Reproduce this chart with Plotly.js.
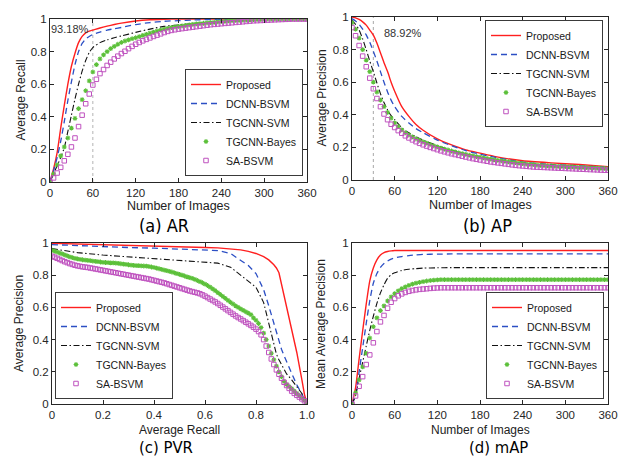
<!DOCTYPE html>
<html>
<head>
<meta charset="utf-8">
<script src="https://cdn.plot.ly/plotly-3.0.1.min.js"></script>
<style>html,body{margin:0;padding:0;background:#fff;}#chart{width:619px;height:457px;}</style>
</head>
<body>
<div id="chart"></div>
<script>
// ---------- data ----------
const seriesNames = ['Proposed', 'DCNN-BSVM', 'TGCNN-SVM', 'TGCNN-Bayes', 'SA-BSVM'];

// number of images (x) for line series and for marker series
const xLine = [0,5,10,15,20,25,30,35,40,45,50,55,60,70,80,90,100,120,140,160,180,200,240,280,320,360];
const xImg = [0,5,10,15,20,25,30,35,40,45,50,55,60,65,70,75,80,85,90,95,100,105,110,115,120,125,130,135,140,145,150,155,160,165,170,175,180,185,190,195,200,205,210,215,220,225,230,235,240,245,250,255,260,265,270,275,280,285,290,295,300,305,310,315,320,325,330,335,340,345,350,355,360];

// (a) Average Recall
const arProposed = [0,0.08,0.18,0.33,0.47,0.6,0.71,0.79,0.855,0.893,0.915,0.926,0.932,0.945,0.956,0.966,0.975,0.988,0.995,0.998,1,1,1,1,1,1];
const arDCNN = [0,0.07,0.15,0.25,0.37,0.5,0.615,0.72,0.8,0.85,0.878,0.893,0.905,0.92,0.932,0.94,0.948,0.966,0.978,0.986,0.99,0.994,0.998,1,1,1];
const arTGSVM = [0,0.05,0.1,0.15,0.21,0.31,0.41,0.51,0.6,0.68,0.745,0.795,0.825,0.855,0.872,0.885,0.896,0.918,0.938,0.955,0.963,0.972,0.985,0.995,1,1];
const arBayes = [0,0.05,0.105,0.16,0.215,0.27,0.33,0.39,0.45,0.505,0.56,0.62,0.675,0.72,0.755,0.78,0.8,0.818,0.832,0.845,0.856,0.865,0.872,0.879,0.885,0.892,0.899,0.906,0.913,0.92,0.926,0.932,0.938,0.943,0.948,0.952,0.955,0.958,0.961,0.964,0.967,0.97,0.972,0.974,0.976,0.978,0.98,0.982,0.984,0.986,0.988,0.99,0.991,0.992,0.993,0.994,0.995,0.996,0.997,0.998,0.999,1,1,1,1,1,1,1,1,1,1,1,1];
const arSA = [0,0.025,0.055,0.09,0.13,0.17,0.215,0.27,0.34,0.41,0.48,0.54,0.595,0.63,0.665,0.69,0.715,0.735,0.755,0.772,0.788,0.802,0.818,0.832,0.845,0.856,0.866,0.875,0.884,0.893,0.901,0.909,0.917,0.924,0.93,0.934,0.938,0.941,0.944,0.947,0.95,0.953,0.956,0.959,0.962,0.965,0.967,0.969,0.971,0.973,0.975,0.977,0.979,0.981,0.983,0.985,0.987,0.989,0.99,0.991,0.992,0.993,0.994,0.995,0.996,0.997,0.998,0.999,1,1,1,1,1];
const arMarkX = 60; const arMarkText = '93.18%';

// (b) Average Precision
const apProposed = [1.0,0.995,0.985,0.97,0.95,0.92,0.889,0.84,0.78,0.72,0.665,0.6,0.545,0.45,0.39,0.34,0.305,0.252,0.215,0.185,0.165,0.145,0.118,0.105,0.095,0.082];
const apDCNN = [0.99,0.975,0.955,0.925,0.89,0.845,0.79,0.73,0.665,0.6,0.54,0.49,0.45,0.39,0.35,0.315,0.29,0.245,0.21,0.18,0.158,0.14,0.11,0.095,0.087,0.078];
const apTGSVM = [0.98,0.955,0.92,0.865,0.8,0.73,0.665,0.595,0.53,0.475,0.43,0.395,0.37,0.32,0.29,0.265,0.245,0.21,0.182,0.16,0.14,0.127,0.1,0.09,0.082,0.075];
const apBayes = [0.965,0.925,0.87,0.8,0.735,0.665,0.6,0.54,0.49,0.45,0.415,0.38,0.35,0.327,0.307,0.29,0.276,0.264,0.253,0.243,0.234,0.226,0.218,0.21,0.203,0.196,0.19,0.184,0.178,0.172,0.167,0.162,0.157,0.152,0.148,0.144,0.14,0.136,0.132,0.128,0.124,0.121,0.118,0.115,0.112,0.109,0.106,0.103,0.1,0.098,0.096,0.094,0.092,0.09,0.088,0.087,0.086,0.085,0.084,0.083,0.082,0.081,0.08,0.079,0.078,0.077,0.076,0.075,0.074,0.073,0.072,0.071,0.07];
const apSA = [0.935,0.885,0.825,0.76,0.695,0.625,0.56,0.5,0.45,0.405,0.37,0.342,0.322,0.303,0.287,0.271,0.258,0.246,0.235,0.225,0.216,0.208,0.2,0.193,0.186,0.179,0.173,0.167,0.161,0.156,0.151,0.146,0.141,0.136,0.131,0.127,0.123,0.119,0.115,0.111,0.108,0.105,0.102,0.099,0.096,0.093,0.09,0.088,0.086,0.084,0.082,0.08,0.079,0.078,0.077,0.076,0.075,0.074,0.073,0.072,0.071,0.07,0.069,0.068,0.067,0.066,0.065,0.064,0.063,0.062,0.061,0.06,0.06];
const apMarkX = 30; const apMarkText = '88.92%';

// (c) Precision vs Recall
const pvrX = [0,0.1,0.2,0.3,0.4,0.5,0.6,0.65,0.7,0.74,0.77,0.8,0.83,0.85,0.87,0.88,0.89,0.9,0.91,0.92,0.94,0.96,0.98,0.99,1.0];
const pvrProposed = [0.998,0.993,0.988,0.984,0.98,0.977,0.972,0.97,0.965,0.957,0.948,0.935,0.915,0.895,0.865,0.845,0.815,0.745,0.66,0.585,0.455,0.32,0.15,0.06,0];
const pvrDCNN = [0.99,0.983,0.977,0.972,0.968,0.963,0.958,0.953,0.935,0.895,0.86,0.81,0.71,0.61,0.5,0.44,0.39,0.34,0.3,0.26,0.19,0.12,0.06,0.03,0];
const pvrTGSVM = [0.965,0.94,0.925,0.914,0.905,0.895,0.884,0.875,0.85,0.8,0.765,0.725,0.63,0.5,0.37,0.31,0.275,0.245,0.215,0.187,0.15,0.11,0.065,0.035,0];
const recallX = [0,0.01,0.02,0.03,0.04,0.05,0.06,0.07,0.08,0.09,0.1,0.11,0.12,0.13,0.14,0.15,0.16,0.17,0.18,0.19,0.2,0.21,0.22,0.23,0.24,0.25,0.26,0.27,0.28,0.29,0.3,0.31,0.32,0.33,0.34,0.35,0.36,0.37,0.38,0.39,0.4,0.41,0.42,0.43,0.44,0.45,0.46,0.47,0.48,0.49,0.5,0.51,0.52,0.53,0.54,0.55,0.56,0.57,0.58,0.59,0.6,0.61,0.62,0.63,0.64,0.65,0.66,0.67,0.68,0.69,0.7,0.71,0.72,0.73,0.74,0.75,0.76,0.77,0.78,0.79,0.8,0.81,0.82,0.83,0.84,0.85,0.86,0.87,0.88,0.89,0.9,0.91,0.92,0.93,0.94,0.95,0.96,0.97,0.98,0.99,1.0];
const pvrBayes = [0.955,0.95,0.944,0.938,0.932,0.926,0.92,0.914,0.909,0.905,0.901,0.898,0.896,0.894,0.892,0.89,0.888,0.886,0.884,0.882,0.88,0.879,0.878,0.877,0.876,0.875,0.873,0.871,0.869,0.867,0.865,0.863,0.861,0.86,0.859,0.858,0.857,0.856,0.854,0.851,0.848,0.844,0.84,0.836,0.832,0.828,0.824,0.82,0.815,0.81,0.805,0.8,0.795,0.79,0.785,0.78,0.774,0.767,0.76,0.753,0.745,0.736,0.726,0.715,0.704,0.692,0.68,0.668,0.656,0.644,0.632,0.621,0.61,0.6,0.591,0.582,0.573,0.564,0.555,0.535,0.52,0.5,0.475,0.44,0.4,0.36,0.315,0.275,0.235,0.2,0.17,0.14,0.122,0.108,0.095,0.08,0.066,0.052,0.038,0.022,0.005];
const pvrSA = [0.918,0.912,0.905,0.898,0.891,0.884,0.878,0.872,0.867,0.862,0.858,0.855,0.852,0.85,0.848,0.845,0.842,0.839,0.836,0.833,0.83,0.827,0.824,0.821,0.818,0.815,0.812,0.809,0.806,0.803,0.8,0.797,0.794,0.791,0.788,0.785,0.782,0.779,0.776,0.772,0.768,0.764,0.76,0.756,0.752,0.747,0.742,0.737,0.732,0.727,0.722,0.717,0.712,0.707,0.702,0.698,0.694,0.69,0.685,0.678,0.67,0.661,0.652,0.643,0.634,0.624,0.613,0.602,0.591,0.58,0.569,0.558,0.547,0.537,0.528,0.518,0.508,0.498,0.488,0.477,0.465,0.45,0.43,0.4,0.36,0.32,0.28,0.245,0.212,0.185,0.16,0.135,0.115,0.097,0.08,0.066,0.054,0.043,0.032,0.02,0.005];

// (d) mean Average Precision
const mapProposed = [0,0.1,0.28,0.455,0.62,0.765,0.845,0.895,0.925,0.94,0.947,0.951,0.953,0.953,0.953,0.953,0.953,0.953,0.953,0.953,0.953,0.953,0.953,0.953,0.953,0.953];
const mapDCNN = [0,0.06,0.2,0.35,0.5,0.642,0.75,0.81,0.848,0.872,0.888,0.9,0.907,0.916,0.922,0.926,0.929,0.931,0.932,0.932,0.932,0.932,0.932,0.932,0.932,0.932];
const mapTGSVM = [0,0.05,0.16,0.26,0.36,0.458,0.545,0.625,0.69,0.74,0.78,0.803,0.815,0.83,0.837,0.841,0.844,0.846,0.847,0.847,0.847,0.847,0.847,0.847,0.847,0.847];
const mapBayes = [0,0.07,0.15,0.23,0.315,0.41,0.48,0.535,0.58,0.61,0.64,0.665,0.685,0.703,0.717,0.728,0.737,0.745,0.751,0.756,0.76,0.764,0.767,0.769,0.771,0.772,0.772,0.772,0.772,0.772,0.772,0.772,0.772,0.772,0.772,0.772,0.772,0.772,0.772,0.772,0.772,0.772,0.772,0.772,0.772,0.772,0.772,0.772,0.772,0.772,0.772,0.772,0.772,0.772,0.772,0.772,0.772,0.772,0.772,0.772,0.772,0.772,0.772,0.772,0.772,0.772,0.772,0.772,0.772,0.772,0.772,0.772,0.772];
const mapSA = [0,0.05,0.11,0.17,0.245,0.305,0.38,0.45,0.51,0.55,0.595,0.632,0.655,0.672,0.684,0.693,0.7,0.705,0.709,0.712,0.714,0.716,0.718,0.72,0.721,0.722,0.722,0.722,0.722,0.722,0.722,0.722,0.722,0.722,0.722,0.722,0.722,0.722,0.722,0.722,0.722,0.722,0.722,0.722,0.722,0.722,0.722,0.722,0.722,0.722,0.722,0.722,0.722,0.722,0.722,0.722,0.722,0.722,0.722,0.722,0.722,0.722,0.722,0.722,0.722,0.722,0.722,0.722,0.722,0.722,0.722,0.722,0.722];

const imgTicks = [0,60,120,180,240,300,360];
const unitTicks = [0,0.2,0.4,0.6,0.8,1];
const unitTickTextY = ['0','0.2','0.4','0.6','0.8','1'];
const unitTickTextX = ['0','0.2','0.4','0.6','0.8','1.0'];

// ---------- styling ----------
const FONT = 'Liberation Sans, Arial, Helvetica, sans-serif';
const NARROW = 'DejaVu Sans Condensed, Liberation Sans Narrow, sans-serif';
const C_RED = '#ff1f1f', C_BLUE = '#2c4fc4', C_BLACK = '#111111', C_GREEN = '#5cc03a', C_MAG = '#bf52bf';

function panelTraces(n, xl, xm, yProp, yDcnn, ySvm, yBayes, ySa, shape) {
  const ax = n === 1 ? '' : String(n);
  const common = {xaxis: 'x' + ax, yaxis: 'y' + ax, legend: 'legend' + ax};
  const sh = shape || 'spline';
  return [
    Object.assign({x: xl, y: yProp, name: seriesNames[0], mode: 'lines', line: {color: C_RED, width: 1.4, shape: sh, smoothing: 0.6}}, common),
    Object.assign({x: xl, y: yDcnn, name: seriesNames[1], mode: 'lines', line: {color: C_BLUE, width: 1.3, dash: '6px,4px', shape: sh, smoothing: 0.6}}, common),
    Object.assign({x: xl, y: ySvm, name: seriesNames[2], mode: 'lines', line: {color: C_BLACK, width: 1.1, dash: '6px,2.5px,1.5px,2.5px', shape: sh, smoothing: 0.6}}, common),
    Object.assign({x: xm, y: yBayes, name: seriesNames[3], mode: 'markers', marker: {symbol: 'asterisk-open', size: 4, color: C_GREEN, line: {color: C_GREEN, width: 1.1}}}, common),
    Object.assign({x: xm, y: ySa, name: seriesNames[4], mode: 'markers', marker: {symbol: 'square-open', size: 4.5, color: C_MAG, line: {color: C_MAG, width: 1}}}, common)
  ];
}

const markA = {x: [arMarkX, arMarkX], y: [0, 1], xaxis: 'x', yaxis: 'y', mode: 'lines', showlegend: false, hoverinfo: 'skip', line: {color: '#b4b4b4', width: 1, dash: 'dot'}};
const markB = {x: [apMarkX, apMarkX], y: [0, 1], xaxis: 'x2', yaxis: 'y2', mode: 'lines', showlegend: false, hoverinfo: 'skip', line: {color: '#a8a8a8', width: 1, dash: 'dot'}};

const data = [markA, markB]
  .concat(panelTraces(1, xLine, xImg, arProposed, arDCNN, arTGSVM, arBayes, arSA))
  .concat(panelTraces(2, xLine, xImg, apProposed, apDCNN, apTGSVM, apBayes, apSA))
  .concat(panelTraces(3, pvrX, recallX, pvrProposed, pvrDCNN, pvrTGSVM, pvrBayes, pvrSA, 'linear'))
  .concat(panelTraces(4, xLine, xImg, mapProposed, mapDCNN, mapTGSVM, mapBayes, mapSA));

const W = 619, H = 457;
const px = v => v / W;
const py = v => 1 - v / H;

function axisBase(domain, anchor, range, tickvals, ticktext) {
  return {
    domain: domain, anchor: anchor, range: range, tickvals: tickvals, ticktext: ticktext,
    showline: true, mirror: 'ticks', linecolor: '#262626', linewidth: 1,
    ticks: 'inside', ticklen: 4, tickcolor: '#262626', tickwidth: 1,
    showgrid: false, zeroline: false, fixedrange: true,
    tickfont: {family: FONT, size: 11.5, color: '#262626'}
  };
}

const legendBase = {
  bgcolor: '#ffffff', bordercolor: '#3a3a3a', borderwidth: 1,
  font: {family: FONT, size: 10.5, color: '#1a1a1a'}, tracegroupgap: 0, itemwidth: 30
};

function ann(text, x, y, size, family, extra) {
  return Object.assign({text: text, x: x, y: y, xref: 'paper', yref: 'paper', showarrow: false,
    xanchor: 'center', yanchor: 'middle', font: {family: family, size: size, color: '#222'}}, extra || {});
}
const capFont = {family: NARROW, size: 18, color: '#000'};
const capFontLow = {family: NARROW, size: 16.5, color: '#000'};

const layout = {
  width: W, height: H,
  margin: {l: 0, r: 0, t: 0, b: 0},
  paper_bgcolor: '#ffffff', plot_bgcolor: '#ffffff',
  showlegend: true,
  xaxis: axisBase([px(50), px(307)], 'y', [0, 360], imgTicks),
  yaxis: axisBase([py(182), py(19)], 'x', [0, 1], unitTicks, unitTickTextY),
  xaxis2: axisBase([px(352), px(608)], 'y2', [0, 360], imgTicks),
  yaxis2: axisBase([py(180), py(17)], 'x2', [0, 1], unitTicks, unitTickTextY),
  xaxis3: axisBase([px(52), px(307)], 'y3', [0, 1], unitTicks, unitTickTextX),
  yaxis3: axisBase([py(404), py(243)], 'x3', [0, 1], unitTicks, unitTickTextY),
  xaxis4: axisBase([px(352), px(608)], 'y4', [0, 360], imgTicks),
  yaxis4: axisBase([py(404), py(243)], 'x4', [0, 1], unitTicks, unitTickTextY),
  legend: Object.assign({x: px(303), xanchor: 'right', y: py(176), yanchor: 'bottom'}, legendBase),
  legend2: Object.assign({x: px(603), xanchor: 'right', y: py(20), yanchor: 'top'}, legendBase),
  legend3: Object.assign({x: px(55), xanchor: 'left', y: py(399), yanchor: 'bottom'}, legendBase),
  legend4: Object.assign({x: px(604), xanchor: 'right', y: py(399), yanchor: 'bottom'}, legendBase),
  annotations: [
    // axis titles
    ann('Number of Images', px(178.5), py(206), 12.5, FONT),
    ann('Number of Images', px(480), py(205), 12.5, FONT),
    ann('Average Recall', px(179.5), py(430), 12, FONT),
    ann('Number of Images', px(480), py(430), 12, FONT),
    ann('Average Recall', px(20), py(100.5), 12, FONT, {textangle: -90}),
    ann('Average Precision', px(322), py(98.5), 12, FONT, {textangle: -90}),
    ann('Average Precision', px(19), py(324), 12, FONT, {textangle: -90}),
    ann('Mean Average Precision', px(321), py(324), 12, FONT, {textangle: -90}),
    // captions
    ann('(a) AR', px(164), py(225), 18, NARROW, {font: capFont}),
    ann('(b) AP', px(487), py(225), 18, NARROW, {font: capFont}),
    ann('(c) PVR', px(166), py(447.5), 16.5, NARROW, {font: capFontLow}),
    ann('(d) mAP', px(498), py(447.5), 16.5, NARROW, {font: capFontLow}),
    // value labels
    {text: arMarkText, x: arMarkX - 2, y: 0.94, xref: 'x', yref: 'y', showarrow: false, xanchor: 'right', yanchor: 'middle', font: {family: FONT, size: 11, color: '#333'}},
    {text: apMarkText, x: apMarkX + 12, y: 0.9, xref: 'x2', yref: 'y2', showarrow: false, xanchor: 'left', yanchor: 'middle', font: {family: FONT, size: 11, color: '#333'}}
  ]
};

Plotly.newPlot('chart', data, layout, {staticPlot: true, displayModeBar: false});
</script>
</body>
</html>
